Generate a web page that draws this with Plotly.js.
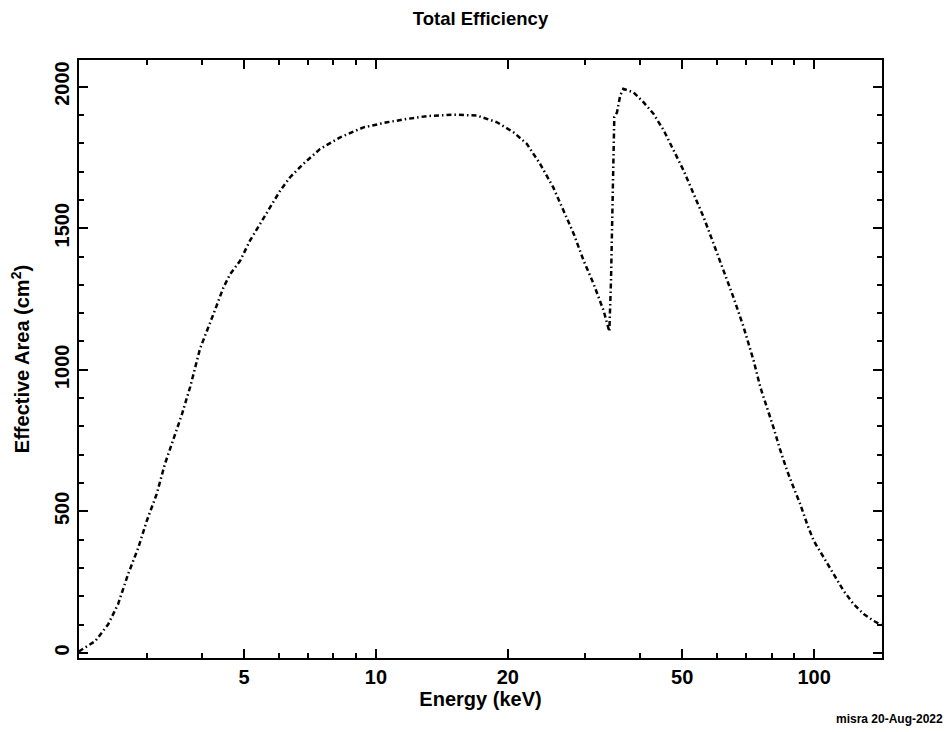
<!DOCTYPE html>
<html>
<head>
<meta charset="utf-8">
<script src="https://cdn.plot.ly/plotly-3.0.1.min.js"></script>
<style>
  html, body { margin: 0; padding: 0; background: #ffffff; }
  #chart { width: 947px; height: 732px; }
</style>
</head>
<body>
<div id="chart"></div>
<script>
// Effective area of the detector versus photon energy
const energyKeV = [
  2.10, 2.29, 2.45, 2.58, 2.72, 2.87, 3.00, 3.16, 3.30, 3.48, 3.61, 3.77,
  3.97, 4.26, 4.49, 4.65, 4.90, 5.16, 5.44, 5.74, 6.05, 6.37, 6.83, 7.46,
  8.29, 9.37, 10.6, 11.8, 13.1, 15.0, 17.0, 18.9, 20.6, 22.1, 23.7, 25.4,
  26.8, 28.3, 29.8, 31.4, 33.1, 34.1, 34.4, 34.6, 35.0, 35.5, 36.1, 36.7,
  38.7, 40.8, 43.0, 45.4, 47.8, 50.4, 53.1, 56.0, 59.0, 62.2, 65.5, 69.1,
  72.8, 75.4, 78.1, 80.8, 83.8, 86.8, 89.8, 93.0, 96.4, 99.8, 105.2, 110.8,
  116.8, 123.1, 129.8, 136.8, 142.9
];
const areaCm2 = [
  5, 42, 101, 172, 278, 372, 466, 561, 667, 773, 843, 940,
  1075, 1197, 1291, 1338, 1385, 1456, 1515, 1573, 1633, 1680, 1727, 1780,
  1821, 1856, 1874, 1886, 1896, 1901, 1898, 1874, 1839, 1798, 1727, 1644,
  1562, 1479, 1385, 1303, 1208, 1135, 1314, 1550, 1892, 1909, 1968, 1992,
  1980, 1945, 1904, 1845, 1774, 1703, 1621, 1538, 1444, 1350, 1255, 1149,
  1032, 938, 867, 796, 714, 643, 584, 525, 455, 396, 337, 278,
  219, 172, 137, 113, 98
];

// Axis ticks
const xMajorTicks = [5, 10, 20, 50, 100];
const xMajorLabels = ['5', '10', '20', '50', '100'];
const xMinorTicks = [3, 4, 6, 7, 8, 9, 30, 40, 60, 70, 80, 90];

const chartTitle = 'Total Efficiency';
const xTitle = 'Energy (keV)';
const yTitle = 'Effective Area (cm<sup>2</sup>)';
const stampText = 'misra 20-Aug-2022';

const FONT = 'Liberation Sans, Arial, Helvetica, sans-serif';

const trace = {
  x: energyKeV,
  y: areaCm2,
  type: 'scatter',
  mode: 'lines',
  line: { color: '#000000', width: 2.5, dash: '5px,3px,1.5px,3px' },
  hoverinfo: 'x+y'
};

const layout = {
  width: 947,
  height: 732,
  paper_bgcolor: '#ffffff',
  plot_bgcolor: '#ffffff',
  showlegend: false,
  margin: { l: 79, r: 65, t: 60, b: 74, pad: 0 },
  font: { family: FONT, color: '#000000', size: 20, weight: 'bold' },
  title: {
    text: chartTitle,
    font: { family: FONT, size: 18.5, color: '#000000', weight: 'bold' },
    xref: 'paper', x: 0.5, xanchor: 'center',
    yref: 'container', y: 1 - 19 / 732, yanchor: 'middle'
  },
  xaxis: {
    type: 'log',
    range: [0.3225, 2.155],
    tickmode: 'array',
    tickvals: xMajorTicks,
    ticktext: xMajorLabels,
    ticks: 'inside',
    ticklen: 9,
    tickwidth: 2,
    tickcolor: '#000000',
    showline: true,
    linewidth: 2,
    linecolor: '#000000',
    mirror: 'ticks',
    showgrid: false,
    zeroline: false,
    tickfont: { family: FONT, size: 20, color: '#000000', weight: 'bold' },
    minor: {
      tickmode: 'array',
      tickvals: xMinorTicks,
      ticks: 'inside',
      ticklen: 5,
      tickwidth: 2,
      tickcolor: '#000000',
      showgrid: false
    },
    title: { text: xTitle, font: { family: FONT, size: 20, color: '#000000', weight: 'bold' }, standoff: 3 },
    automargin: false
  },
  yaxis: {
    range: [-18, 2094],
    tickmode: 'linear',
    tick0: 0,
    dtick: 500,
    tickangle: -90,
    ticks: 'inside',
    ticklen: 9,
    tickwidth: 2,
    tickcolor: '#000000',
    showline: true,
    linewidth: 2,
    linecolor: '#000000',
    mirror: 'ticks',
    showgrid: false,
    zeroline: false,
    tickfont: { family: FONT, size: 20, color: '#000000', weight: 'bold' },
    minor: {
      tick0: 0,
      dtick: 100,
      ticks: 'inside',
      ticklen: 5,
      tickwidth: 2,
      tickcolor: '#000000',
      showgrid: false
    },
    title: { text: yTitle, font: { family: FONT, size: 20, color: '#000000', weight: 'bold' }, standoff: 16 },
    automargin: false
  },
  annotations: [{
    text: stampText,
    xref: 'paper', yref: 'paper',
    x: (945 - 79) / 803, xanchor: 'right',
    y: (658 - 719) / 598, yanchor: 'middle',
    showarrow: false,
    font: { family: FONT, size: 12, color: '#000000', weight: 'bold' }
  }]
};

Plotly.newPlot('chart', [trace], layout, { displayModeBar: false, staticPlot: true });
</script>
</body>
</html>
